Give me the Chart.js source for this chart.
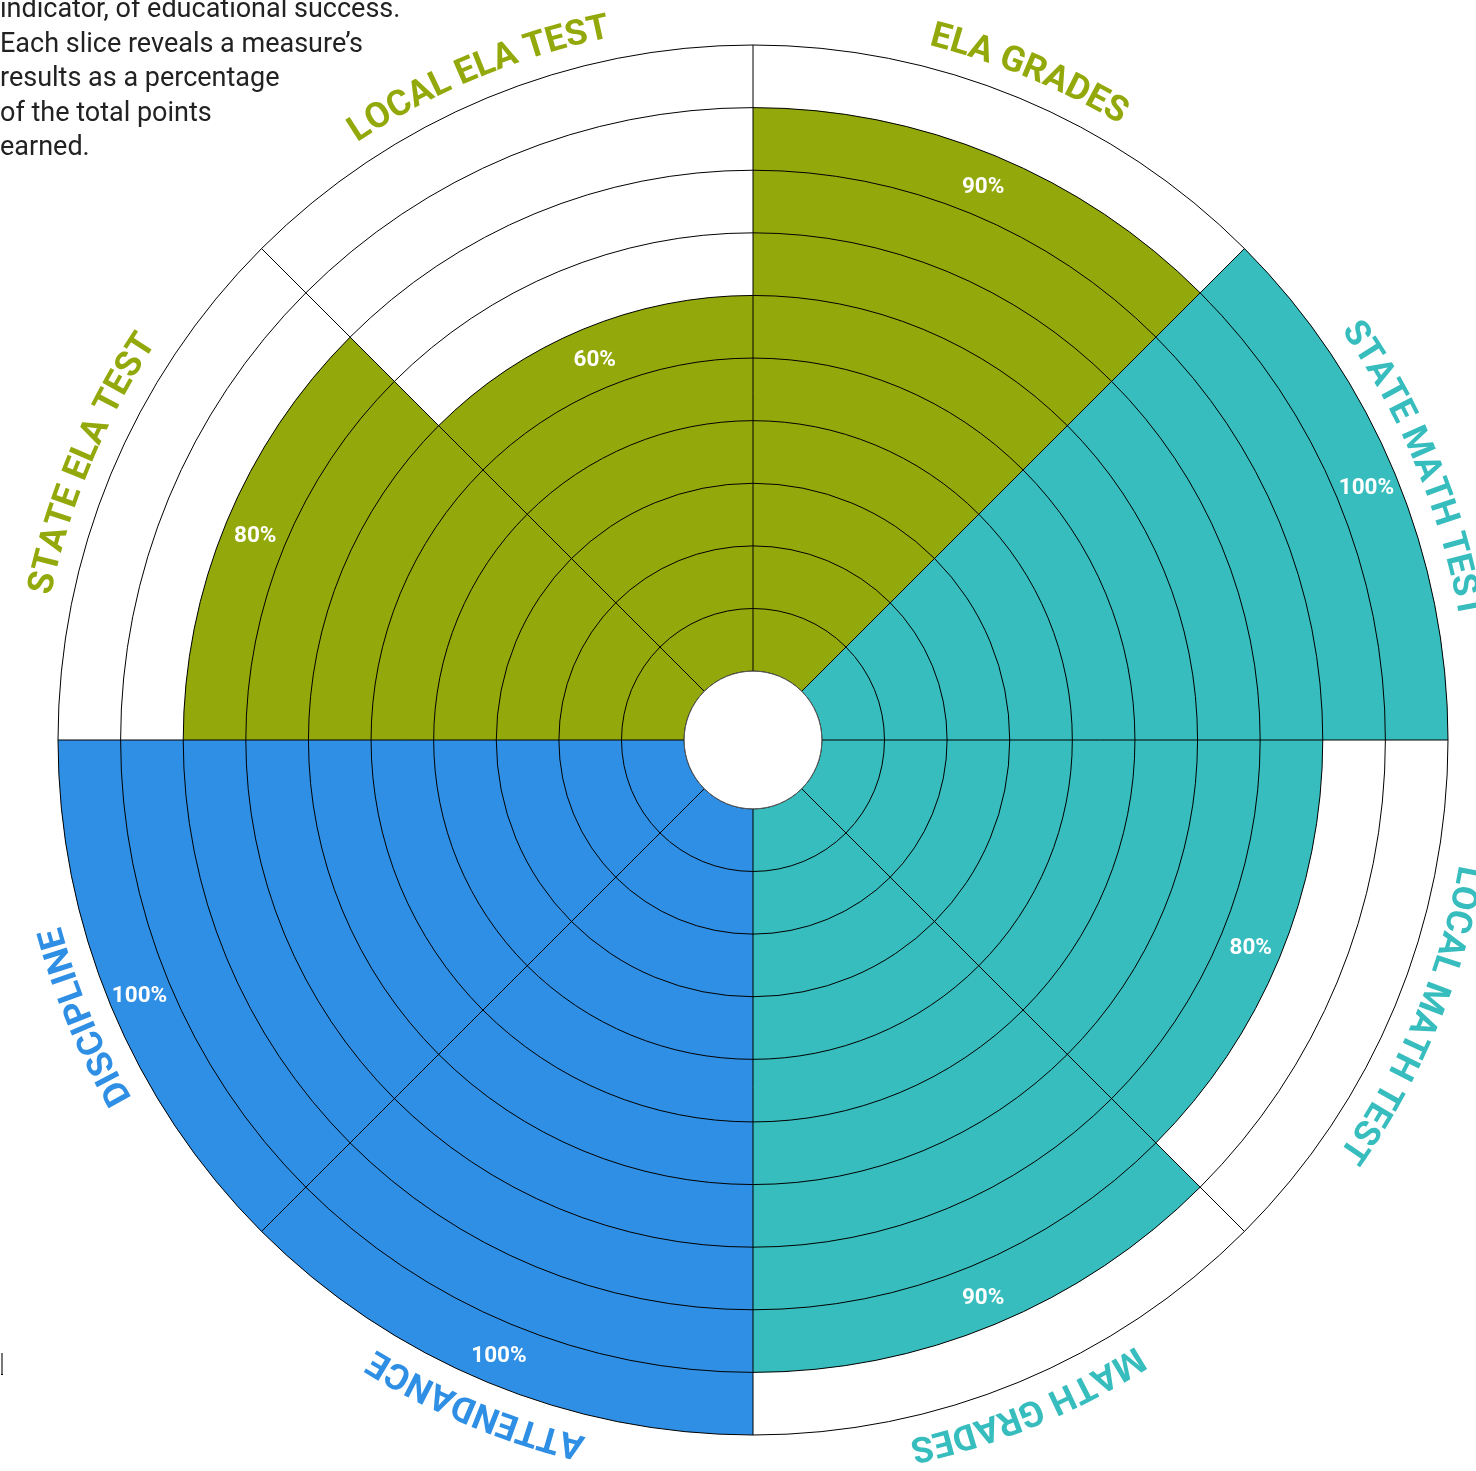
<!DOCTYPE html>
<html><head><meta charset="utf-8">
<script src="https://cdn.jsdelivr.net/npm/chart.js@4.4.1/dist/chart.umd.min.js"></script>
<style>
html,body{margin:0;padding:0;background:#fff;overflow:hidden;width:1476px;height:1471px;}
#wrap{position:absolute;left:0;top:0;width:1476px;height:1471px;}
#intro{position:absolute;left:0;top:-9px;font-family:Roboto,sans-serif;font-size:27px;line-height:34.5px;color:#222;white-space:nowrap;z-index:2;}
#caret{position:absolute;left:1px;top:1353px;width:2px;height:21px;background:#777;border-bottom:1px solid #000;}
</style></head><body>
<div id="wrap"><canvas id="c"></canvas></div>
<div id="intro">indicator, of educational success.<br>Each slice reveals a measure’s<br>results as a percentage<br>of the total points<br>earned.</div>
<div id="caret"></div>
<script>
const categories = ['ELA GRADES','STATE MATH TEST','LOCAL MATH TEST','MATH GRADES','ATTENDANCE','DISCIPLINE','STATE ELA TEST','LOCAL ELA TEST'];
const values = [90, 100, 80, 90, 100, 100, 80, 60];
const sliceColors = ['#93A90B','#37BDBD','#37BDBD','#37BDBD','#2E8FE4','#2E8FE4','#93A90B','#93A90B'];
const gridTicks = [0,10,20,30,40,50,60,70,80,90,100];

const overlay = {
  id: 'overlay',
  afterDraw(chart) {
    const s = chart.scales.r, ctx = chart.ctx;
    const cx = s.xCenter, cy = s.yCenter;
    const step = 2 * Math.PI / categories.length;
    // centre hole
    const hr = s.getDistanceFromCenterForValue(0);
    ctx.save();
    ctx.beginPath(); ctx.arc(cx, cy, hr, 0, 2 * Math.PI);
    ctx.fillStyle = '#fff'; ctx.fill();
    ctx.lineWidth = 1; ctx.strokeStyle = '#555'; ctx.stroke();
    ctx.restore();
    // value labels
    ctx.save();
    ctx.font = 'bold 22.5px Roboto';
    ctx.fillStyle = '#fff'; ctx.textAlign = 'center'; ctx.textBaseline = 'middle';
    values.forEach((v, i) => {
      const a = s.getIndexAngle(i) + step / 2 - Math.PI / 2;
      const r = s.getDistanceFromCenterForValue(v) - 31;
      ctx.fillText(v + '%', cx + r * Math.cos(a), cy + r * Math.sin(a) + 2.5);
    });
    ctx.restore();
    // curved category labels
    const R = s.drawingArea + 22;
    ctx.save();
    ctx.font = 'bold 35.5px Roboto';
    ctx.textAlign = 'center'; ctx.textBaseline = 'alphabetic';
    categories.forEach((txt, i) => {
      const mid = s.getIndexAngle(i) + step / 2;
      const total = ctx.measureText(txt).width;
      ctx.save();
      ctx.fillStyle = sliceColors[i];
      ctx.translate(cx, cy);
      ctx.rotate(mid - total / 2 / R);
      for (const ch of txt) {
        const w = ctx.measureText(ch).width;
        ctx.rotate(w / 2 / R);
        ctx.fillText(ch, 0, -R);
        ctx.rotate(w / 2 / R);
      }
      ctx.restore();
    });
    ctx.restore();
  }
};

new Chart(document.getElementById('c'), {
  type: 'polarArea',
  data: {
    labels: categories,
    datasets: [{ data: values, backgroundColor: sliceColors, borderWidth: 0 }]
  },
  options: {
    responsive: true,
    maintainAspectRatio: false,
    animation: false,
    devicePixelRatio: 1,
    layout: { padding: { left: 58, right: 28, top: 45, bottom: 36 } },
    plugins: { legend: { display: false }, tooltip: { enabled: false } },
    scales: {
      r: {
        min: -11, max: 100, startAngle: 0,
        afterBuildTicks: (sc) => { sc.ticks = gridTicks.map(v => ({ value: v })); },
        ticks: { display: false },
        pointLabels: { display: false },
        grid: { z: 1, color: '#000', lineWidth: 1, circular: true },
        angleLines: { display: true, color: '#000', lineWidth: 1 }
      }
    }
  },
  plugins: [overlay]
});
</script>
</body></html>
